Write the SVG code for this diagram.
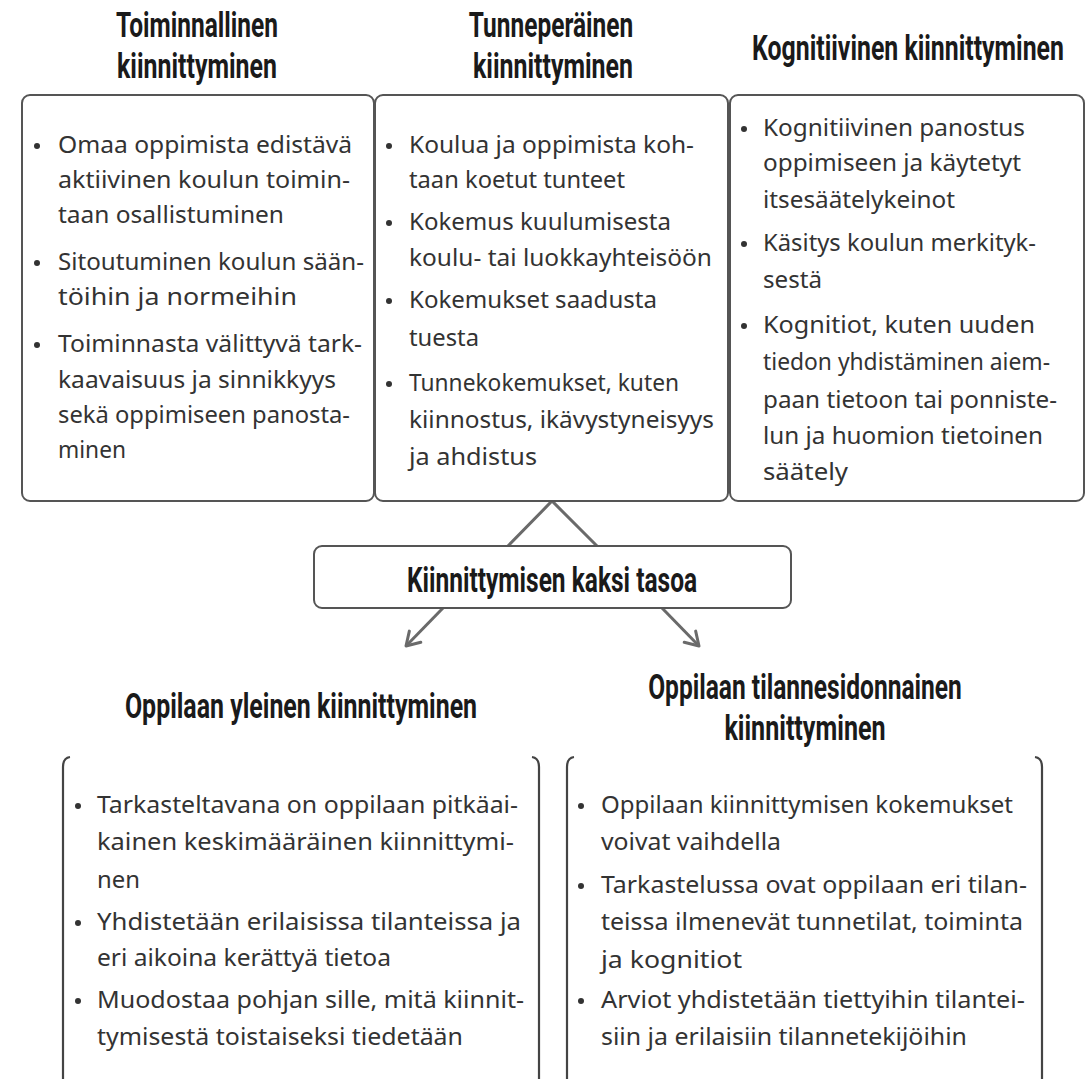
<svg xmlns="http://www.w3.org/2000/svg" width="1088" height="1079" viewBox="0 0 1088 1079">
<style>
.box{fill:#fff;stroke:#555;stroke-width:2}
.br{fill:none;stroke:#444;stroke-width:2.2}
.conn{fill:none;stroke:#6a6a6a;stroke-width:3}
.h{font-family:Roboto,"Liberation Sans",sans-serif;font-weight:700;font-size:35px;fill:#1a1a1a;text-anchor:middle}
.t{font-family:"Noto Sans","Open Sans",sans-serif;font-size:23px;fill:#333}
.b{fill:#333}
</style>
<defs>
<marker id="arr" viewBox="0 0 20 20" refX="16" refY="10" markerWidth="20" markerHeight="20" markerUnits="userSpaceOnUse" orient="auto" overflow="visible">
<path d="M3,2 L16,10 L3,18" fill="none" stroke="#6a6a6a" stroke-width="3" stroke-linecap="round" stroke-linejoin="round"/>
</marker>
</defs>
<rect width="1088" height="1079" fill="#fff"/>

<g id="headings-top">
<text class="h" transform="translate(197,37) scale(0.62,1)" textLength="261" lengthAdjust="spacingAndGlyphs">Toiminnallinen</text>
<text class="h" transform="translate(197,78) scale(0.62,1)" textLength="258" lengthAdjust="spacingAndGlyphs">kiinnittyminen</text>
<text class="h" transform="translate(551,37) scale(0.62,1)" textLength="265" lengthAdjust="spacingAndGlyphs">Tunneperäinen</text>
<text class="h" transform="translate(553,78) scale(0.62,1)" textLength="258" lengthAdjust="spacingAndGlyphs">kiinnittyminen</text>
<text class="h" transform="translate(908,60) scale(0.62,1)" textLength="503" lengthAdjust="spacingAndGlyphs">Kognitiivinen kiinnittyminen</text>
</g>

<g id="connectors">
<polyline class="conn" points="508,546 552,501 597,546"/>
<line class="conn" x1="443" y1="608" x2="406" y2="646" marker-end="url(#arr)"/>
<line class="conn" x1="662" y1="608" x2="699" y2="646" marker-end="url(#arr)"/>
</g>

<g id="node-toiminnallinen">
<rect class="box" x="22" y="95" width="352" height="406" rx="8"/>
<circle class="b" cx="37" cy="146" r="3"/>
<text class="t" x="58" y="153" textLength="294" lengthAdjust="spacingAndGlyphs">Omaa oppimista edistävä</text>
<text class="t" x="58" y="188" textLength="292" lengthAdjust="spacingAndGlyphs">aktiivinen koulun toimin-</text>
<text class="t" x="58" y="223" textLength="226" lengthAdjust="spacingAndGlyphs">taan osallistuminen</text>
<circle class="b" cx="37" cy="263" r="3"/>
<text class="t" x="58" y="270" textLength="306" lengthAdjust="spacingAndGlyphs">Sitoutuminen koulun sään-</text>
<text class="t" x="58" y="305" textLength="239" lengthAdjust="spacingAndGlyphs">töihin ja normeihin</text>
<circle class="b" cx="37" cy="345" r="3"/>
<text class="t" x="58" y="352" textLength="304" lengthAdjust="spacingAndGlyphs">Toiminnasta välittyvä tark-</text>
<text class="t" x="58" y="388" textLength="278" lengthAdjust="spacingAndGlyphs">kaavaisuus ja sinnikkyys</text>
<text class="t" x="58" y="423" textLength="292" lengthAdjust="spacingAndGlyphs">sekä oppimiseen panosta-</text>
<text class="t" x="58" y="458" textLength="68" lengthAdjust="spacingAndGlyphs">minen</text>
</g>

<g id="node-tunneperainen">
<rect class="box" x="375" y="95" width="353" height="406" rx="8"/>
<circle class="b" cx="389" cy="146" r="3"/>
<text class="t" x="409" y="153" textLength="285" lengthAdjust="spacingAndGlyphs">Koulua ja oppimista koh-</text>
<text class="t" x="409" y="188" textLength="216" lengthAdjust="spacingAndGlyphs">taan koetut tunteet</text>
<circle class="b" cx="389" cy="223" r="3"/>
<text class="t" x="409" y="230" textLength="262" lengthAdjust="spacingAndGlyphs">Kokemus kuulumisesta</text>
<text class="t" x="409" y="266" textLength="303" lengthAdjust="spacingAndGlyphs">koulu- tai luokkayhteisöön</text>
<circle class="b" cx="389" cy="301" r="3"/>
<text class="t" x="409" y="308" textLength="248" lengthAdjust="spacingAndGlyphs">Kokemukset saadusta</text>
<text class="t" x="409" y="346" textLength="70" lengthAdjust="spacingAndGlyphs">tuesta</text>
<circle class="b" cx="389" cy="384" r="3"/>
<text class="t" x="409" y="391" textLength="270" lengthAdjust="spacingAndGlyphs">Tunnekokemukset, kuten</text>
<text class="t" x="409" y="428" textLength="305" lengthAdjust="spacingAndGlyphs">kiinnostus, ikävystyneisyys</text>
<text class="t" x="409" y="465" textLength="128" lengthAdjust="spacingAndGlyphs">ja ahdistus</text>
</g>

<g id="node-kognitiivinen">
<rect class="box" x="730" y="95" width="354" height="406" rx="8"/>
<circle class="b" cx="744" cy="129" r="3"/>
<text class="t" x="763" y="136" textLength="262" lengthAdjust="spacingAndGlyphs">Kognitiivinen panostus</text>
<text class="t" x="763" y="171" textLength="258" lengthAdjust="spacingAndGlyphs">oppimiseen ja käytetyt</text>
<text class="t" x="763" y="208" textLength="192" lengthAdjust="spacingAndGlyphs">itsesäätelykeinot</text>
<circle class="b" cx="744" cy="244" r="3"/>
<text class="t" x="763" y="251" textLength="273" lengthAdjust="spacingAndGlyphs">Käsitys koulun merkityk-</text>
<text class="t" x="763" y="288" textLength="59" lengthAdjust="spacingAndGlyphs">sestä</text>
<circle class="b" cx="744" cy="326" r="3"/>
<text class="t" x="763" y="333" textLength="272" lengthAdjust="spacingAndGlyphs">Kognitiot, kuten uuden</text>
<text class="t" x="763" y="370" textLength="287" lengthAdjust="spacingAndGlyphs">tiedon yhdistäminen aiem-</text>
<text class="t" x="763" y="408" textLength="294" lengthAdjust="spacingAndGlyphs">paan tietoon tai ponniste-</text>
<text class="t" x="763" y="444" textLength="280" lengthAdjust="spacingAndGlyphs">lun ja huomion tietoinen</text>
<text class="t" x="763" y="480" textLength="85" lengthAdjust="spacingAndGlyphs">säätely</text>
</g>

<g id="node-center">
<rect class="box" x="314" y="546" width="477" height="62" rx="8"/>
<text class="h" transform="translate(552,592) scale(0.62,1)" textLength="468" lengthAdjust="spacingAndGlyphs">Kiinnittymisen kaksi tasoa</text>
</g>

<g id="node-yleinen">
<text class="h" transform="translate(301,718) scale(0.62,1)" textLength="568" lengthAdjust="spacingAndGlyphs">Oppilaan yleinen kiinnittyminen</text>
<path class="br" d="M70,757 Q63,758 63,767 L63,1080"/>
<path class="br" d="M532,757 Q539,758 539,767 L539,1080"/>
<circle class="b" cx="78" cy="806" r="3"/>
<text class="t" x="97" y="813" textLength="421" lengthAdjust="spacingAndGlyphs">Tarkasteltavana on oppilaan pitkäai-</text>
<text class="t" x="97" y="850" textLength="417" lengthAdjust="spacingAndGlyphs">kainen keskimääräinen kiinnittymi-</text>
<text class="t" x="97" y="888" textLength="43" lengthAdjust="spacingAndGlyphs">nen</text>
<circle class="b" cx="78" cy="923" r="3"/>
<text class="t" x="97" y="930" textLength="424" lengthAdjust="spacingAndGlyphs">Yhdistetään erilaisissa tilanteissa ja</text>
<text class="t" x="97" y="966" textLength="294" lengthAdjust="spacingAndGlyphs">eri aikoina kerättyä tietoa</text>
<circle class="b" cx="78" cy="1001" r="3"/>
<text class="t" x="97" y="1008" textLength="427" lengthAdjust="spacingAndGlyphs">Muodostaa pohjan sille, mitä kiinnit-</text>
<text class="t" x="97" y="1045" textLength="366" lengthAdjust="spacingAndGlyphs">tymisestä toistaiseksi tiedetään</text>
</g>

<g id="node-tilannesidonnainen">
<text class="h" transform="translate(805,699) scale(0.62,1)" textLength="506" lengthAdjust="spacingAndGlyphs">Oppilaan tilannesidonnainen</text>
<text class="h" transform="translate(805,740) scale(0.62,1)" textLength="260" lengthAdjust="spacingAndGlyphs">kiinnittyminen</text>
<path class="br" d="M574,757 Q567,758 567,767 L567,1080"/>
<path class="br" d="M1035,757 Q1042,758 1042,767 L1042,1080"/>
<circle class="b" cx="581" cy="806" r="3"/>
<text class="t" x="601" y="813" textLength="412" lengthAdjust="spacingAndGlyphs">Oppilaan kiinnittymisen kokemukset</text>
<text class="t" x="601" y="850" textLength="180" lengthAdjust="spacingAndGlyphs">voivat vaihdella</text>
<circle class="b" cx="581" cy="886" r="3"/>
<text class="t" x="601" y="893" textLength="426" lengthAdjust="spacingAndGlyphs">Tarkastelussa ovat oppilaan eri tilan-</text>
<text class="t" x="601" y="930" textLength="422" lengthAdjust="spacingAndGlyphs">teissa ilmenevät tunnetilat, toiminta</text>
<text class="t" x="601" y="968" textLength="141" lengthAdjust="spacingAndGlyphs">ja kognitiot</text>
<circle class="b" cx="581" cy="1001" r="3"/>
<text class="t" x="601" y="1008" textLength="424" lengthAdjust="spacingAndGlyphs">Arviot yhdistetään tiettyihin tilantei-</text>
<text class="t" x="601" y="1045" textLength="366" lengthAdjust="spacingAndGlyphs">siin ja erilaisiin tilannetekijöihin</text>
</g>
</svg>
